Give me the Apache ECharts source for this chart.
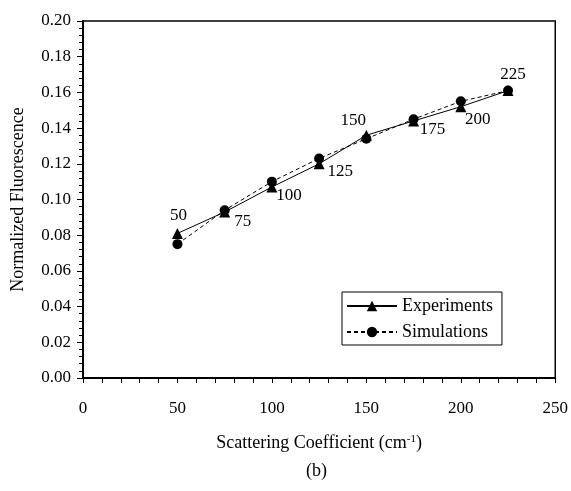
<!DOCTYPE html>
<html>
<head>
<meta charset="utf-8">
<script src="https://cdn.jsdelivr.net/npm/echarts@6/dist/echarts.min.js"></script>
<style>
  html, body { margin: 0; padding: 0; background: #fff; }
  #chart { width: 571px; height: 491px; }
</style>
</head>
<body>
<div id="chart"></div>
<script>
// Scattering coefficient (cm^-1) at each measured phantom
const scattering = [50, 75, 100, 125, 150, 175, 200, 225];
// Normalized fluorescence, measured
const experiments = [0.081, 0.093, 0.107, 0.120, 0.136, 0.144, 0.152, 0.161];
// Normalized fluorescence, Monte Carlo
const simulations = [0.075, 0.094, 0.110, 0.123, 0.134, 0.145, 0.155, 0.161];
// Axis tick values
const xTicks = [0, 50, 100, 150, 200, 250];
const yTicks = [0.00, 0.02, 0.04, 0.06, 0.08, 0.10, 0.12, 0.14, 0.16, 0.18, 0.20];

// Where each point's annotation sits relative to its marker (px)
const labelOffsets = [[1, -18], [18, 10], [17, 9], [21, 8], [-13, -15], [19, 9], [17, 13], [5, -16]];

const FONT = '"Liberation Serif", "DejaVu Serif", serif';

const chart = echarts.init(document.getElementById('chart'), null, { renderer: 'canvas' });

const expData = scattering.map((x, i) => ({
  value: [x, experiments[i]],
  label: {
    show: true,
    position: 'inside',
    offset: labelOffsets[i],
    formatter: String(x),
    color: '#000',
    fontFamily: FONT,
    fontSize: 17
  }
}));
const simData = scattering.map((x, i) => [x, simulations[i]]);

chart.setOption({
  animation: false,
  backgroundColor: '#fff',
  textStyle: { fontFamily: FONT, color: '#000' },
  grid: {
    left: 83, right: 15, top: 21, bottom: 113,
    show: true, borderColor: '#000', borderWidth: 1.5, backgroundColor: 'transparent'
  },
  legend: {
    left: 342, top: 292,
    orient: 'vertical',
    padding: [5, 9, 4, 4],
    itemGap: 8,
    itemWidth: 50,
    itemHeight: 13,
    borderColor: '#000', borderWidth: 1,
    backgroundColor: '#fff',
    textStyle: { fontFamily: FONT, fontSize: 18, color: '#000' },
    data: ['Experiments', 'Simulations']
  },
  xAxis: {
    type: 'value',
    min: xTicks[0], max: xTicks[xTicks.length - 1], interval: 50,
    name: '{t|Scattering Coefficient (cm}{s|-1}{t|)}',
    nameLocation: 'middle',
    nameGap: 56,
    nameTextStyle: {
      rich: {
        t: { fontFamily: FONT, fontSize: 18, color: '#000' },
        s: { fontFamily: FONT, fontSize: 11, color: '#000', verticalAlign: 'top', padding: [0, 0, 8, 0] }
      }
    },
    axisLine: { show: true, lineStyle: { color: '#000', width: 2 } },
    axisTick: { show: true, inside: false, length: 5, lineStyle: { color: '#000', width: 1 } },
    minorTick: { show: true, splitNumber: 5, length: 5, lineStyle: { color: '#000', width: 1 } },
    axisLabel: { fontFamily: FONT, fontSize: 17, color: '#000', margin: 22 },
    splitLine: { show: false }
  },
  yAxis: {
    type: 'value',
    min: yTicks[0], max: yTicks[yTicks.length - 1], interval: 0.02,
    name: 'Normalized Fluorescence',
    nameLocation: 'middle',
    nameGap: 56,
    nameTextStyle: { fontFamily: FONT, fontSize: 18, color: '#000' },
    axisLine: { show: true, lineStyle: { color: '#000', width: 2 } },
    axisTick: { show: true, inside: false, length: 6, lineStyle: { color: '#000', width: 1 } },
    minorTick: { show: true, splitNumber: 5, length: 4, lineStyle: { color: '#000', width: 1 } },
    axisLabel: { fontFamily: FONT, fontSize: 17, color: '#000', margin: 12, formatter: v => v.toFixed(2) },
    splitLine: { show: false }
  },
  graphic: [{
    type: 'text',
    left: 306,
    top: 462,
    style: { text: '(b)', font: '18px ' + FONT, fill: '#000' }
  }],
  series: [
    {
      name: 'Simulations',
      type: 'line',
      data: simData,
      symbol: 'circle',
      symbolSize: 10,
      itemStyle: { color: '#000' },
      lineStyle: { color: '#000', width: 1, type: [4, 3] },
      z: 2
    },
    {
      name: 'Experiments',
      type: 'line',
      data: expData,
      symbol: 'triangle',
      symbolSize: 11,
      itemStyle: { color: '#000' },
      lineStyle: { color: '#000', width: 1 },
      z: 3
    }
  ]
});
</script>
</body>
</html>
